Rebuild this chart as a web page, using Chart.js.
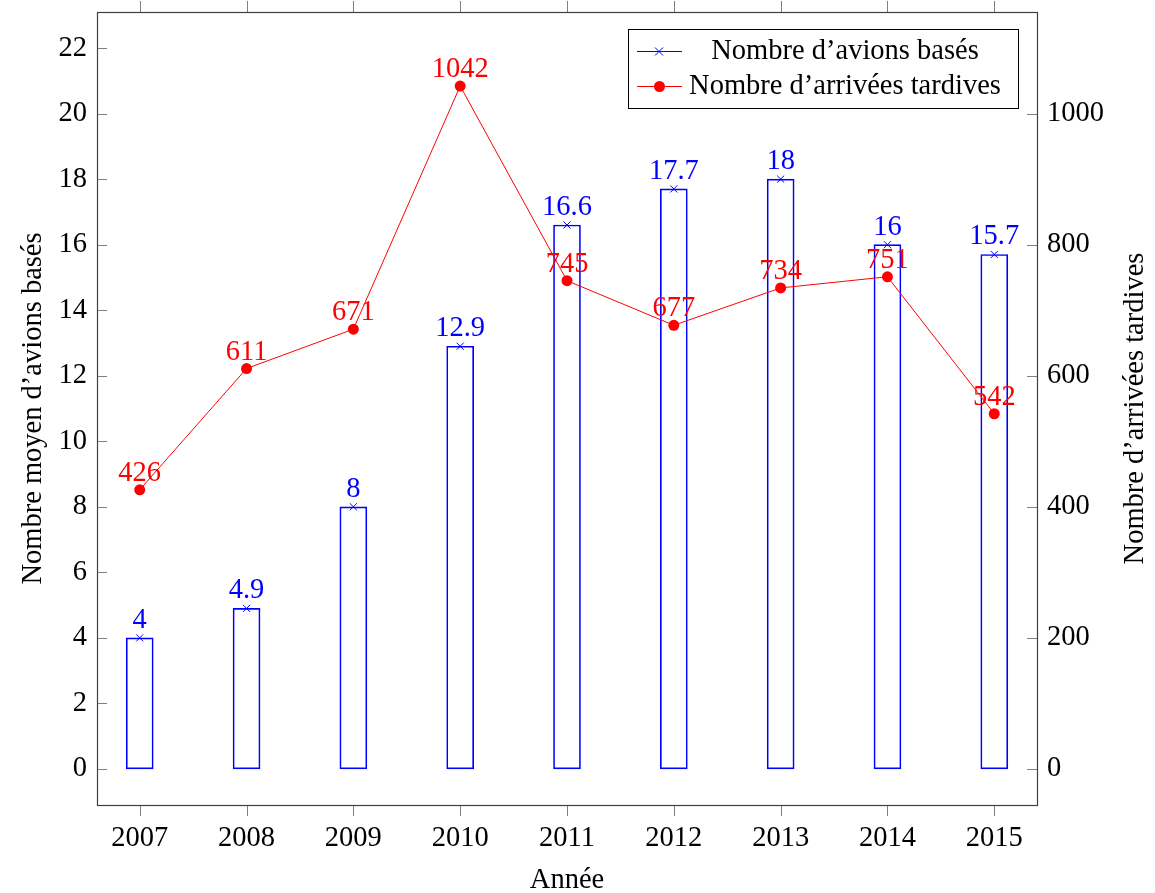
<!DOCTYPE html>
<html>
<head>
<meta charset="utf-8">
<script src="https://cdn.jsdelivr.net/npm/chart.js@4.4.1/dist/chart.umd.min.js"></script>
<style>
  html, body { margin: 0; padding: 0; background: #fff; }
  #wrap { width: 1155px; height: 893px; }
</style>
</head>
<body>
<div id="wrap"><canvas id="graphe"></canvas></div>
<script>
// données
const annees = [2007, 2008, 2009, 2010, 2011, 2012, 2013, 2014, 2015];
const avionsBases = [4, 4.9, 8, 12.9, 16.6, 17.7, 18, 16, 15.7];
const arriveesTardives = [426, 611, 671, 1042, 745, 677, 734, 751, 542];
const ticksGauche = [0, 2, 4, 6, 8, 10, 12, 14, 16, 18, 20, 22];
const ticksDroite = [0, 200, 400, 600, 800, 1000];

const POLICE = '"Liberation Serif", "Times New Roman", serif';
const TAILLE = 28.5;
const BLEU = "#0000ff";
const ROUGE = "#ff0000";

// cadre, petits traits des axes, titres, étiquettes et légende
const decor = {
    id: "decor",
    afterDraw(chart) {
        const ctx = chart.ctx;
        const a = chart.chartArea;
        const sx = chart.scales.x, sy = chart.scales.y, sy1 = chart.scales.y1;
        ctx.save();

        // traits des graduations
        ctx.strokeStyle = "#7f7f7f";
        ctx.lineWidth = 1;
        ctx.beginPath();
        ticksGauche.forEach(v => {
            const y = Math.round(sy.getPixelForValue(v)) + 0.5;
            ctx.moveTo(a.left, y); ctx.lineTo(a.left + 10, y);
        });
        ticksDroite.forEach(v => {
            const y = Math.round(sy1.getPixelForValue(v)) + 0.5;
            ctx.moveTo(a.right, y); ctx.lineTo(a.right - 10, y);
        });
        annees.forEach(v => {
            const x = Math.round(sx.getPixelForValue(v)) + 0.5;
            ctx.moveTo(x, a.bottom); ctx.lineTo(x, a.bottom + 11);
            ctx.moveTo(x, a.top); ctx.lineTo(x, a.top - 11);
        });
        ctx.stroke();

        // cadre
        ctx.strokeStyle = "#404040";
        ctx.lineWidth = 1.2;
        ctx.strokeRect(a.left + 0.5, a.top + 0.5, a.right - a.left, a.bottom - a.top);

        // étiquettes des valeurs
        ctx.font = TAILLE + "px " + POLICE;
        ctx.textAlign = "center";
        ctx.textBaseline = "alphabetic";
        ctx.fillStyle = BLEU;
        chart.getDatasetMeta(1).data.forEach((p, i) => {
            ctx.fillText(String(avionsBases[i]), p.x, p.y - 10);
        });
        ctx.fillStyle = ROUGE;
        chart.getDatasetMeta(2).data.forEach((p, i) => {
            ctx.fillText(String(arriveesTardives[i]), p.x, p.y - 9);
        });

        // titres des axes
        ctx.fillStyle = "#000";
        ctx.fillText("Année", (a.left + a.right) / 2, 888);
        ctx.save();
        ctx.translate(41, (a.top + a.bottom) / 2);
        ctx.rotate(-Math.PI / 2);
        ctx.fillText("Nombre moyen d\u2019avions basés", 0, 0);
        ctx.restore();
        ctx.save();
        ctx.translate(1143, (a.top + a.bottom) / 2);
        ctx.rotate(-Math.PI / 2);
        ctx.fillText("Nombre d\u2019arrivées tardives", 0, 0);
        ctx.restore();

        // légende
        const lx = 628, ly = 29, lw = 390, lh = 79;
        ctx.fillStyle = "#fff";
        ctx.fillRect(lx, ly, lw, lh);
        ctx.strokeStyle = "#000";
        ctx.lineWidth = 1;
        ctx.strokeRect(lx + 0.5, ly + 0.5, lw, lh);
        const rangs = [51, 86];
        // série 1
        ctx.strokeStyle = BLEU;
        ctx.beginPath();
        ctx.moveTo(637, rangs[0] + 0.5); ctx.lineTo(682, rangs[0] + 0.5);
        ctx.moveTo(655, rangs[0] - 3.5); ctx.lineTo(663, rangs[0] + 4.5);
        ctx.moveTo(663, rangs[0] - 3.5); ctx.lineTo(655, rangs[0] + 4.5);
        ctx.stroke();
        // série 2
        ctx.strokeStyle = ROUGE;
        ctx.beginPath();
        ctx.moveTo(637, rangs[1] + 0.5); ctx.lineTo(682, rangs[1] + 0.5);
        ctx.stroke();
        ctx.fillStyle = ROUGE;
        ctx.beginPath();
        ctx.arc(659.5, rangs[1] + 0.5, 5.5, 0, Math.PI * 2);
        ctx.fill();
        ctx.fillStyle = "#000";
        ctx.textBaseline = "middle";
        ctx.fillText("Nombre d\u2019avions basés", 845, rangs[0] + 1);
        ctx.fillText("Nombre d\u2019arrivées tardives", 845, rangs[1] + 1);

        ctx.restore();
    }
};

const points = (ys) => annees.map((a, i) => ({ x: a, y: ys[i] }));
const sansMarge = (s) => { s.paddingTop = 0; s.paddingBottom = 0; s.paddingLeft = 0; s.paddingRight = 0; };

new Chart(document.getElementById("graphe"), {
    type: "bar",
    data: {
        datasets: [
            {
                type: "bar",
                label: "Nombre d'avions basés",
                data: points(avionsBases),
                yAxisID: "y",
                backgroundColor: "rgba(255,255,255,0)",
                borderColor: BLEU,
                borderWidth: 1,
                borderSkipped: false,
                barThickness: 27,
                order: 3
            },
            {
                type: "line",
                label: "marques",
                data: points(avionsBases),
                yAxisID: "y",
                showLine: false,
                pointStyle: "crossRot",
                pointRadius: 5,
                borderColor: BLEU,
                borderWidth: 1,
                order: 2
            },
            {
                type: "line",
                label: "Nombre d'arrivées tardives",
                data: points(arriveesTardives),
                yAxisID: "y1",
                borderColor: ROUGE,
                borderWidth: 1,
                tension: 0,
                pointRadius: 5.5,
                pointBackgroundColor: ROUGE,
                pointBorderWidth: 0,
                order: 1
            }
        ]
    },
    options: {
        responsive: true,
        maintainAspectRatio: false,
        animation: false,
        layout: { padding: { top: 12, left: 0, right: 0, bottom: 0 } },
        plugins: { legend: { display: false }, tooltip: { enabled: false } },
        scales: {
            x: {
                type: "linear",
                min: 2006.6,
                max: 2015.4,
                offset: false,
                afterBuildTicks: s => { s.ticks = annees.map(v => ({ value: v })); },
                afterFit: s => { s.height = 88; sansMarge(s); },
                grid: { display: false, drawTicks: false },
                border: { display: false },
                ticks: {
                    callback: v => String(v),
                    color: "#000",
                    padding: 16,
                    maxRotation: 0,
                    font: { family: POLICE, size: TAILLE }
                }
            },
            y: {
                position: "left",
                min: -1.1,
                max: 23.1,
                afterBuildTicks: s => { s.ticks = ticksGauche.map(v => ({ value: v })); },
                afterFit: s => { s.width = 97; sansMarge(s); },
                grid: { display: false, drawTicks: false },
                border: { display: false },
                ticks: { callback: v => String(v), color: "#000", padding: 10, font: { family: POLICE, size: TAILLE } }
            },
            y1: {
                position: "right",
                min: -55,
                max: 1155,
                afterBuildTicks: s => { s.ticks = ticksDroite.map(v => ({ value: v })); },
                afterFit: s => { s.width = 118; sansMarge(s); },
                grid: { display: false, drawTicks: false },
                border: { display: false },
                ticks: { callback: v => String(v), color: "#000", padding: 10, font: { family: POLICE, size: TAILLE } }
            }
        }
    },
    plugins: [decor]
});
</script>
</body>
</html>
